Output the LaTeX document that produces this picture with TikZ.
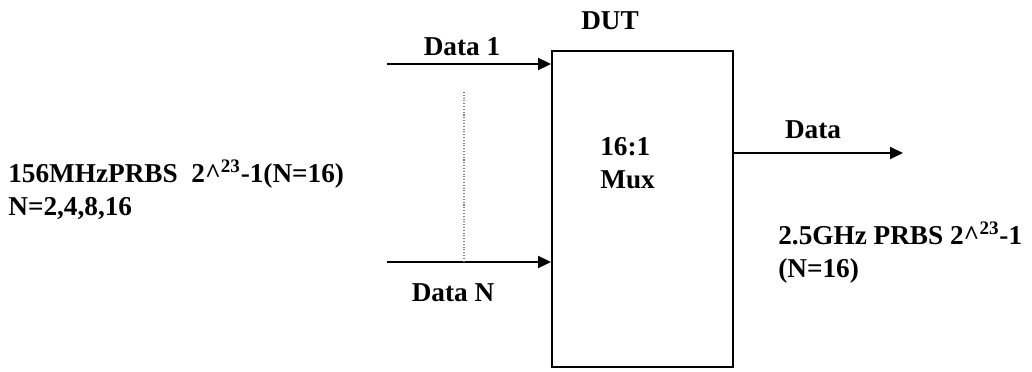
\documentclass[tikz,border=0pt]{standalone}
\usepackage{fontspec}
\setmainfont{Liberation Serif}
\usepackage{tikz}
\usetikzlibrary{arrows.meta,positioning,calc}

\begin{document}
\begin{tikzpicture}[
  x=0.02cm, y=-0.02cm,
  every node/.style={font=\fontsize{15.5}{19}\selectfont\bfseries, inner sep=0pt},
  block/.style={rectangle, draw, line width=1.1pt,
                minimum width=3.62cm, minimum height=6.32cm},
  arr/.style={-{Triangle[length=0.26cm,width=0.24cm]}, line width=1.1pt},
  lbl/.style={anchor=base},
  txt/.style={align=left, anchor=north west}
]
\useasboundingbox (0,0) rectangle (1032,372);

\node[block] (dut) at (642.5,209) {};
\node[lbl] (dutlbl) at (610,30) {DUT};
\node[txt] (mux) at (600,137) {16:1\\Mux};

% inputs
\coordinate (d1) at (387,64);
\coordinate (dn) at (387,262);
\coordinate (dottop) at (464,92);
\coordinate (out) at (903,153);
\draw[arr] (d1) -- (d1 -| dut.west);
\draw[arr] (dn) -- (dn -| dut.west);
\draw[densely dotted, line width=0.6pt, gray] (dottop) -- (dottop |- dn);
\node[lbl] (d1lbl) at (462,55) {Data 1};
\node[lbl] (dnlbl) at (453,301) {Data N};

% output
\draw[arr] (out -| dut.east) -- (out);
\node[lbl] (outlbl) at (813,138) {Data};

% rates
\node[txt] (inrate) at (8,160) {156MHzPRBS\ \ 2\textasciicircum\textsuperscript{23}-1(N=16)\\N=2,4,8,16};
\node[txt] (outrate) at (778,222) {2.5GHz PRBS 2\textasciicircum\textsuperscript{23}-1\\(N=16)};
\end{tikzpicture}
\end{document}
